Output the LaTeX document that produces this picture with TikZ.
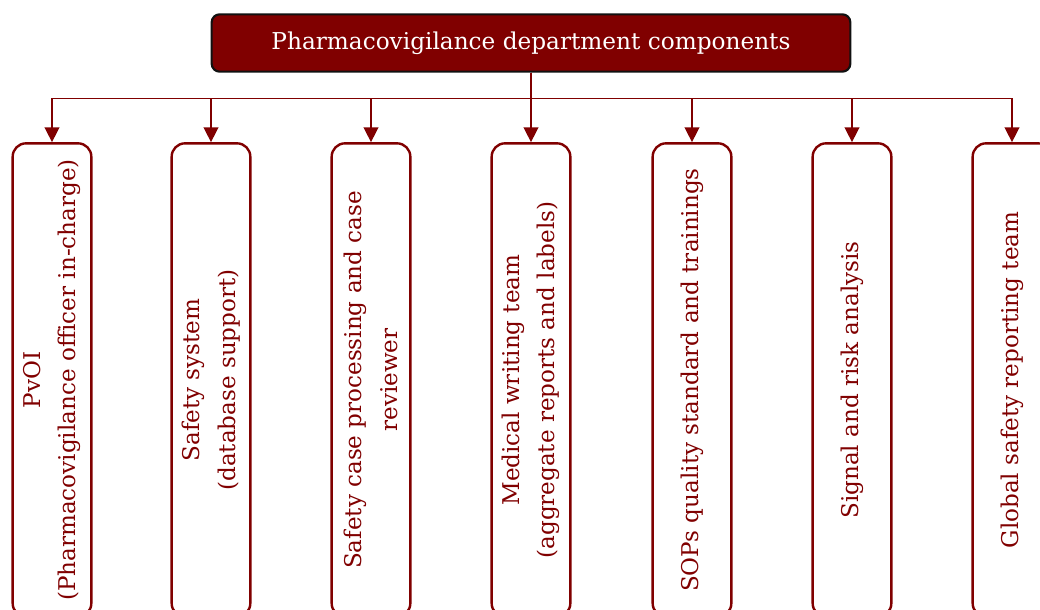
\documentclass[tikz,border=0pt]{standalone}
\usepackage{fontspec}
\setmainfont{DejaVu Serif}
\usepackage{xcolor}
\usetikzlibrary{arrows.meta}
\definecolor{maroon}{HTML}{800000}
\definecolor{edge}{HTML}{111111}

\begin{document}
\begin{tikzpicture}[x=0.75pt,y=-0.75pt,
  head/.style={draw=edge,line width=1.6pt,fill=maroon,rounded corners=6pt,
    minimum width=479pt,minimum height=43pt,text=white,
    font=\fontsize{17.4}{22}\selectfont},
  comp/.style={draw=maroon,line width=1.8pt,rounded corners=10pt,
    minimum width=59pt,minimum height=355pt},
  compText/.style={rotate=90,text=maroon,align=center,
    font=\fontsize{17.3}{26.5}\selectfont},
  link/.style={draw=maroon,line width=1.1pt,
    -{Triangle[width=11pt,length=11pt]}}]
\useasboundingbox (0,0) rectangle (1040,610);
\clip (0,0) rectangle (1040,610);
\node[head] (title) at (531,43) {Pharmacovigilance department components};
\foreach \x/\t [count=\i] in {
  52/{PvOI\\(Pharmacovigilance officer in-charge)},
  211/{Safety system\\(database support)},
  371/{Safety case processing and case\\reviewer},
  531/{Medical writing team\\(aggregate reports and labels)},
  692/{SOPs quality standard and trainings},
  852/{Signal and risk analysis},
  1012/{Global safety reporting team}}{
  \node[comp] (b\i) at (\x,380) {};
  \node[compText] (t\i) at (b\i) {\t};
  \draw[link] (title.south) -- ++(0,26) -| (b\i.north);
}
\end{tikzpicture}
\end{document}
